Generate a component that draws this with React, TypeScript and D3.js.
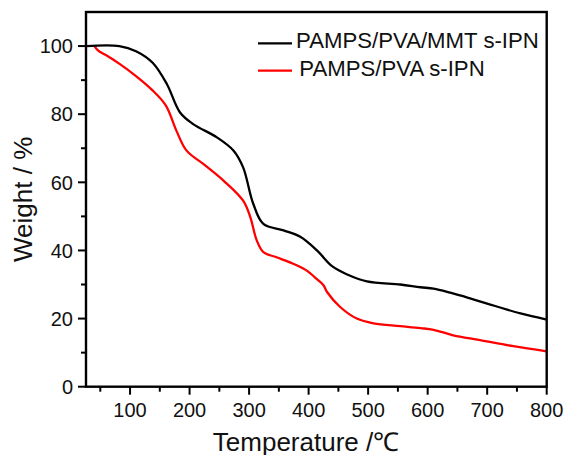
import React from "react";
import * as d3 from "d3";

const mmtTemp = [26, 82, 110, 138, 162, 184, 206, 246, 274, 290, 307, 324, 358, 386, 414, 440, 464, 498, 554, 588, 610, 638, 670, 700, 756, 800];
const mmtWeight = [100, 100, 98.5, 95.1, 88.8, 80.5, 77.1, 73.2, 69.3, 64.4, 53.7, 47.8, 45.9, 44.0, 40.0, 35.3, 33.0, 30.9, 30.0, 29.2, 28.8, 27.6, 26.0, 24.4, 21.5, 19.7];

const pvaTemp = [40, 47, 60, 83, 110, 136, 160, 178, 195, 223, 257, 290, 302, 313, 324, 346, 374, 395, 414, 425, 431, 453, 481, 509, 554, 588, 610, 643, 688, 744, 800];
const pvaWeight = [100, 98.6, 97.3, 94.7, 91.2, 87.3, 82.6, 75.1, 69.3, 65.4, 60.5, 54.6, 49.8, 42.9, 39.5, 38.0, 36.1, 34.3, 31.6, 29.8, 27.8, 23.4, 20.0, 18.6, 17.8, 17.2, 16.7, 15.1, 13.7, 11.9, 10.4];

const xMajor = [100, 200, 300, 400, 500, 600, 700, 800];
const xMinor = [50, 150, 250, 350, 450, 550, 650, 750];
const yMajor = [0, 20, 40, 60, 80, 100];
const yMinor = [10, 30, 50, 70, 90];

const seriesNames = ["PAMPS/PVA/MMT s-IPN", "PAMPS/PVA s-IPN"];

export default function App() {
  const W = 567, H = 455;
  const left = 86, right = 546.7, top = 12, bottom = 386.7;
  const x = d3.scaleLinear().domain([26, 800]).range([left, right]);
  const y = d3.scaleLinear().domain([0, 110]).range([bottom, top]);
  const font = "'Liberation Sans', Arial, sans-serif";

  const line = d3
    .line<[number, number]>()
    .x((d) => x(d[0]))
    .y((d) => y(d[1]))
    .curve(d3.curveCatmullRom.alpha(0.5));

  const mmt = mmtTemp.map((t, i) => [t, mmtWeight[i]] as [number, number]);
  const pva = pvaTemp.map((t, i) => [t, pvaWeight[i]] as [number, number]);

  return (
    <svg width={W} height={H} style={{ position: "absolute", left: 0, top: 0, background: "#fff" }}>
      <rect x={0} y={0} width={W} height={H} fill="#fff" />
      <path d={line(pva) || ""} fill="none" stroke="#ff0000" strokeWidth={2.3} />
      <path d={line(mmt) || ""} fill="none" stroke="#000" strokeWidth={2.3} />

      {/* frame */}
      <rect x={left} y={top} width={right - left} height={bottom - top} fill="none" stroke="#000" strokeWidth={2.4} />

      {/* x ticks */}
      {xMajor.map((t) => (
        <g key={"xm" + t}>
          <line x1={x(t)} x2={x(t)} y1={bottom} y2={bottom + 8} stroke="#000" strokeWidth={2} />
          <text x={x(t)} y={417} textAnchor="middle" fontFamily={font} fontSize={20} fill="#111">
            {t}
          </text>
        </g>
      ))}
      {xMinor.map((t) => (
        <line key={"xn" + t} x1={x(t)} x2={x(t)} y1={bottom} y2={bottom + 5} stroke="#000" strokeWidth={2} />
      ))}

      {/* y ticks */}
      {yMajor.map((v) => (
        <g key={"ym" + v}>
          <line x1={left - 8} x2={left} y1={y(v)} y2={y(v)} stroke="#000" strokeWidth={2} />
          <text x={73} y={y(v)} dy="0.36em" textAnchor="end" fontFamily={font} fontSize={20} fill="#111">
            {v}
          </text>
        </g>
      ))}
      {yMinor.map((v) => (
        <line key={"yn" + v} x1={left - 5} x2={left} y1={y(v)} y2={y(v)} stroke="#000" strokeWidth={2} />
      ))}

      {/* axis titles */}
      <text x={306} y={450.5} textAnchor="middle" fontFamily={font} fontSize={26} fill="#111">
        Temperature /℃
      </text>
      <text
        transform={`translate(32, ${(top + bottom) / 2}) rotate(-90)`}
        textAnchor="middle"
        fontFamily={font}
        fontSize={26}
        fill="#111"
      >
        Weight / %
      </text>

      {/* legend */}
      <line x1={258} x2={292} y1={43.3} y2={43.3} stroke="#000" strokeWidth={2.3} />
      <text x={296} y={48.3} fontFamily={font} fontSize={22.2} fill="#111">
        {seriesNames[0]}
      </text>
      <line x1={258} x2={292} y1={70.7} y2={70.7} stroke="#ff0000" strokeWidth={2.3} />
      <text x={299.3} y={75.7} fontFamily={font} fontSize={22.2} fill="#111">
        {seriesNames[1]}
      </text>
    </svg>
  );
}
